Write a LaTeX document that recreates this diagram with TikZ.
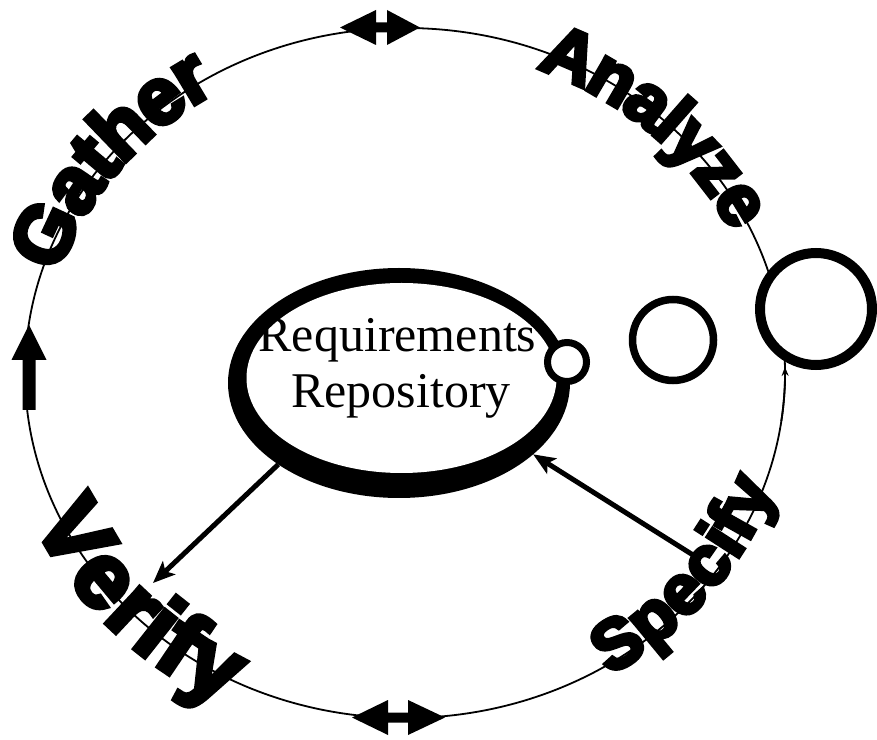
\documentclass[tikz,border=0pt]{standalone}
\usepackage{fontspec}
\setmainfont{Liberation Serif}
\newfontfamily\heavyfont[FakeBold=6]{Liberation Sans Bold}
\usetikzlibrary{shapes.geometric,arrows.meta,decorations.text,calc}
\begin{document}
\begin{tikzpicture}[x=1pt,y=1pt,
  orbit/.style={line width=1.8pt},
  smallring/.style={circle, draw, fill=white, inner sep=0pt, outer sep=0pt},
  flow/.style={line width=5pt, -{Stealth[length=22pt,width=18pt,inset=5pt]}},
  blockarrow/.style={fill=black},
  curved/.style={decorate, decoration={text along path, text align=center, text color=black}},
]
\useasboundingbox (0,0) rectangle (877,739);
\coordinate (O) at (405,366);
\draw[orbit] (O) ellipse [x radius=380, y radius=345];

% curved labels
\path[curved, decoration={text={|\heavyfont\fontsize{80}{80}\selectfont|Gather}, raise=-16pt}]
  ($(O)+(172:380 and 345)$) arc[start angle=172, end angle=112, x radius=380, y radius=345];
\path[curved, decoration={text={|\heavyfont\fontsize{72}{72}\selectfont|Analyze}, raise=-18pt}]
  ($(O)+(73:380 and 345)$) arc[start angle=73, end angle=21, x radius=380, y radius=345];
\path[curved, decoration={text={|\heavyfont\fontsize{92}{92}\selectfont|Verify}, raise=-25pt}]
  ($(O)+(193:380 and 345)$) arc[start angle=193, end angle=253, x radius=380, y radius=345];
\path[curved, decoration={text={|\heavyfont\fontsize{70}{70}\selectfont|Specify}, raise=-10pt}]
  ($(O)+(-71:380 and 345)$) arc[start angle=-71, end angle=-5, x radius=380, y radius=345];

% repository ring
\fill[black] (399,356) ellipse [x radius=171, y radius=115];
\fill[white] (401.5,361) ellipse [x radius=155, y radius=95];
\node[ellipse, minimum width=342pt, minimum height=230pt, inner sep=0pt, outer sep=0pt] (repo) at (399,356) {};
\node[anchor=base, font=\fontsize{50}{56}\selectfont, inner sep=0pt] (t1) at (397.5,387) {Requirements};
\node[anchor=base, font=\fontsize{50}{56}\selectfont, inner sep=0pt] (t2) at (401,331) {Repository};

% circles
\node[smallring, line width=7pt, minimum size=39pt] (c1) at (567,377) {};
\node[smallring, line width=7.5pt, minimum size=81pt] (c2) at (673,399) {};
\node[smallring, line width=10pt, minimum size=112pt] (c3) at (816,430) {};
\draw[orbit, -{Stealth[length=9pt,width=7pt]}] ($(O)+(-8:380 and 345)$) arc[start angle=-8, end angle=1, x radius=380, y radius=345];

% connectors
\coordinate (vtip) at (153,156);
\coordinate (sstart) at (693,184);
\draw[flow] (repo.214) -- (vtip);
\draw[flow] (sstart) -- (repo.-28);

% block arrows on the cycle
\fill[blockarrow] (340,711.5) -- (376,729) -- (376,716.5) -- (387,716.5) -- (387,729) -- (420,711.5)
  -- (387,694) -- (387,706.5) -- (376,706.5) -- (376,694) -- cycle;
\fill[blockarrow] (352,21.5) -- (388,39) -- (388,26.5) -- (408,26.5) -- (408,39) -- (445,21.5)
  -- (408,4) -- (408,16.5) -- (388,16.5) -- (388,4) -- cycle;
\fill[blockarrow] (29,414) -- (46.5,379) -- (35.5,379) -- (35.5,329) -- (22.5,329) -- (22.5,379) -- (11.5,379) -- cycle;
\end{tikzpicture}
\end{document}
